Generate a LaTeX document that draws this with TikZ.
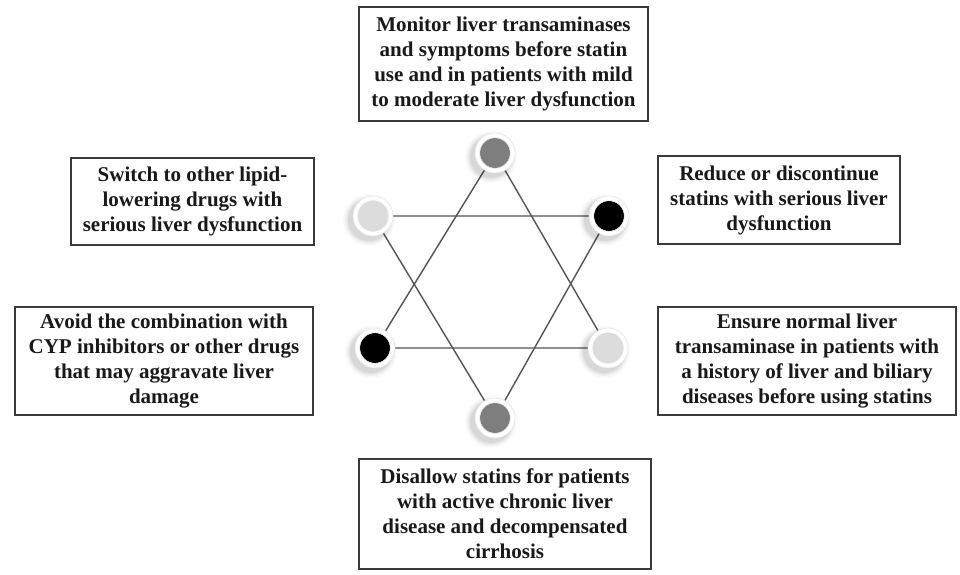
\documentclass[tikz,border=0pt]{standalone}
\usepackage{fontspec}
\setmainfont{Liberation Serif}
\usetikzlibrary{backgrounds}
\definecolor{midgray}{HTML}{7E7E7E}
\definecolor{lightgray}{HTML}{DCDCDC}
\definecolor{linegray}{HTML}{555555}
\definecolor{boxline}{HTML}{3A3A3A}
\tikzset{
  box/.style={draw=boxline, line width=1.6pt, fill=white, align=center, inner sep=0pt,
    font=\fontsize{21}{25}\selectfont\bfseries, text=black!90},
  ring/.style={circle, minimum size=40pt, inner sep=0pt, fill=white, draw=black!10, line width=0.6pt,
    path picture={\fill[#1] (path picture bounding box.center) circle (15pt);
                  \draw[white!85!black, line width=0.5pt] (path picture bounding box.center) circle (15.3pt);}},
  link/.style={draw=linegray, line width=1.4pt},
}
\newcommand{\softshadow}[2]{%
  \foreach \r/\o in {26/0.025,24/0.035,22.5/0.045,21/0.055}{\fill[black, opacity=\o] (#1-4,#2+4) circle (\r pt);}}
\begin{document}
\begin{tikzpicture}[x=1pt,y=-1pt]
\useasboundingbox (0,0) rectangle (960,574);
% circles
\node[ring=midgray]   (ct)  at (495,153) {};
\node[ring=black]     (ctr) at (609,216) {};
\node[ring=lightgray] (ctl) at (373,216) {};
\node[ring=black]     (cbl) at (375,348) {};
\node[ring=lightgray] (cbr) at (608,348) {};
\node[ring=midgray]   (cb)  at (495,418) {};
\begin{pgfonlayer}{background}
\fill[white] (0,0) rectangle (960,574);
\draw[link] (ct.center) -- (cbl.center) -- (cbr.center) -- cycle;
\draw[link] (ctl.center) -- (ctr.center) -- (cb.center) -- cycle;
\softshadow{495}{153}
\softshadow{609}{216}
\softshadow{373}{216}
\softshadow{375}{348}
\softshadow{608}{348}
\softshadow{495}{418}
\end{pgfonlayer}
% boxes
\node[box, minimum width=289pt, minimum height=114pt] (bt) at (503.5,64)
 {Monitor liver transaminases\\and symptoms before statin\\use and in patients with mild\\to moderate liver dysfunction};
\node[box, minimum width=243pt, minimum height=87pt] (btl) at (192.5,201.5)
 {Switch to other lipid-\\lowering drugs with\\serious liver dysfunction};
\node[box, minimum width=242pt, minimum height=88pt] (btr) at (779,200)
 {Reduce or discontinue\\statins with serious liver\\dysfunction};
\node[box, minimum width=298pt, minimum height=108pt] (bbl) at (164,361)
 {Avoid the combination with\\CYP inhibitors or other drugs\\that may aggravate liver\\damage};
\node[box, minimum width=298pt, minimum height=108pt] (bbr) at (807,361)
 {Ensure normal liver\\transaminase in patients with\\a history of liver and biliary\\diseases before using statins};
\node[box, minimum width=292pt, minimum height=110pt] (bb) at (505,514)
 {Disallow statins for patients\\with active chronic liver\\disease and decompensated\\cirrhosis};
\end{tikzpicture}
\end{document}
